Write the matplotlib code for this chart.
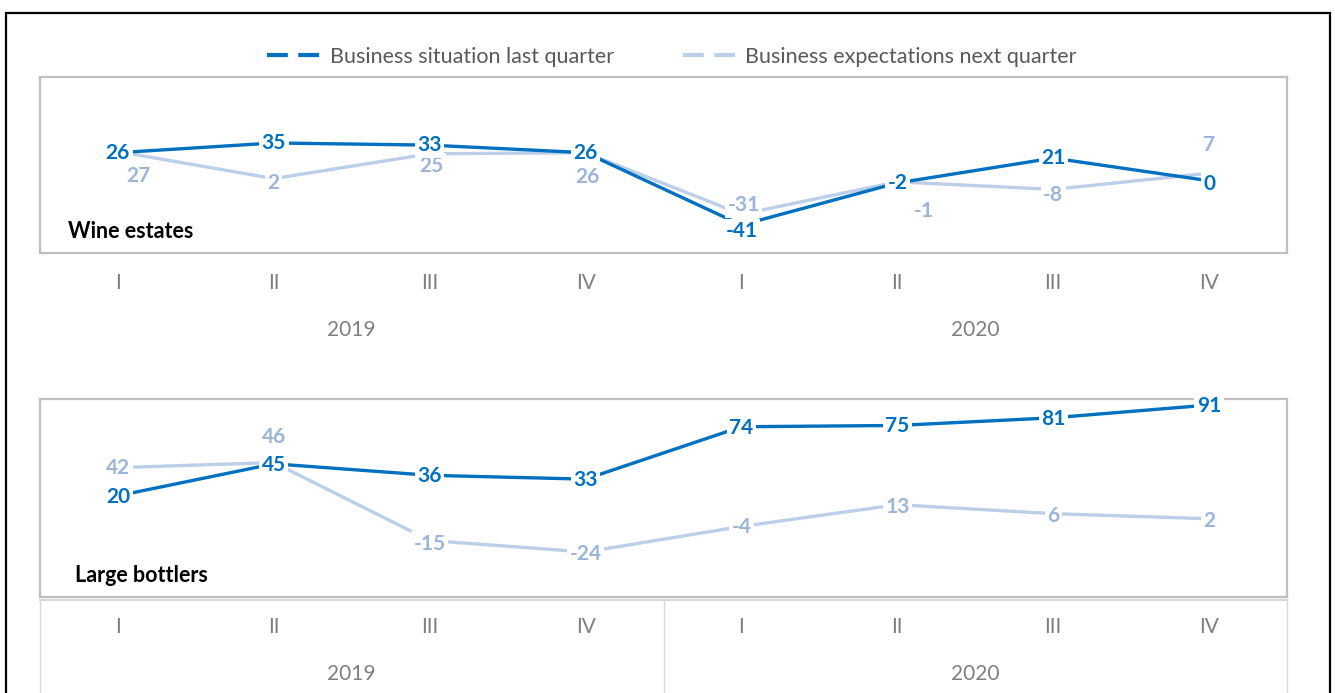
import matplotlib
matplotlib.use("Agg")
import matplotlib.pyplot as plt
from matplotlib.lines import Line2D
from matplotlib.patches import Rectangle
import matplotlib.transforms as mtransforms

plt.rcParams['font.family'] = ['Lato', 'DejaVu Sans']

quarters = ["I", "II", "III", "IV", "I", "II", "III", "IV"]
years = ["2019", "2020"]
series_names = ["Business situation last quarter", "Business expectations next quarter"]

wine_situation = [26, 35, 33, 26, -41, -2, 21, 0]
wine_expect = [27, 2, 25, 26, -31, -1, -8, 7]
bottlers_situation = [20, 45, 36, 33, 74, 75, 81, 91]
bottlers_expect = [42, 46, -15, -24, -4, 13, 6, 2]

DARK = "#0070C0"
LIGHT_LINE = "#BCCFE8"
LIGHT_TXT = "#9BB4DA"
GRAY_TXT = "#7F7F7F"
BOX = "#BFBFBF"

W, H = 1335, 693
fig = plt.figure(figsize=(W / 100, H / 100), dpi=100)

def axes_px(x0, y0, x1, y1):
    return fig.add_axes([x0 / W, 1 - y1 / H, (x1 - x0) / W, (y1 - y0) / H])

ax1 = axes_px(40, 77, 1287, 253)
ax2 = axes_px(40, 399, 1287, 597)

x = list(range(len(quarters)))

# label offsets in pixels (dx, dy) with dy positive downwards
wine_sit_off = [(0, 0), (0, 0), (0, 0), (0, 0), (0, 6), (0, 0), (0, 0), (0, 3)]
wine_exp_off = [(20, 24), (0, 4), (2, 12), (2, 24), (2, -9), (26, 29), (0, 6), (0, -28)]
bot_sit_off = [(0, 1)] * 8
bot_exp_off = [(0, 0), (0, -26), (0, 3), (0, 2), (0, 1), (0, 2), (0, 2), (0, 2)]

def draw_panel(ax, sit, exp, sit_off, exp_off, ylim, title, title_xy):
    ax.plot(x, exp, color=LIGHT_LINE, lw=2.4, solid_capstyle='butt', zorder=2)
    ax.plot(x, sit, color=DARK, lw=2.4, solid_capstyle='butt', zorder=3)
    ax.set_xlim(-0.5, 7.5)
    ax.set_ylim(*ylim)
    ax.set_xticks([])
    ax.set_yticks([])
    for s in ax.spines.values():
        s.set_color(BOX)
        s.set_linewidth(1.6)
    bb = dict(boxstyle='square,pad=0.12', fc='white', ec='none')
    for xi, v, (dx, dy) in zip(x, exp, exp_off):
        ax.annotate(str(v), (xi, v), xytext=(dx, -dy), textcoords='offset pixels',
                    ha='center', va='center', fontsize=15, fontweight='bold',
                    color=LIGHT_TXT, bbox=bb, zorder=5, annotation_clip=False)
    for xi, v, (dx, dy) in zip(x, sit, sit_off):
        ax.annotate(str(v), (xi, v), xytext=(dx, -dy), textcoords='offset pixels',
                    ha='center', va='center', fontsize=15, fontweight='bold',
                    color=DARK, bbox=bb, zorder=6, annotation_clip=False)
    # category labels
    for xi, q in zip(x, quarters):
        ax.annotate(q, (xi, 0), xycoords=('data', 'axes fraction'), xytext=(0, -30),
                    textcoords='offset pixels', ha='center', va='center',
                    fontsize=15, color=GRAY_TXT, annotation_clip=False)
    for i, yr in enumerate(years):
        ax.annotate(yr, (1.5 + 4 * i, 0), xycoords=('data', 'axes fraction'), xytext=(0, -77),
                    textcoords='offset pixels', ha='center', va='center',
                    fontsize=15, color=GRAY_TXT, annotation_clip=False)
    ax.text(title_xy[0], title_xy[1], title, transform=ax.transAxes, fontsize=15.5,
            fontweight='bold', color='black', ha='left', va='center')

draw_panel(ax1, wine_situation, wine_expect, wine_sit_off, wine_exp_off,
           (-66.9, 96.1), "Wine estates", ((68 - 40) / 1247, (253 - 232) / 176))
draw_panel(ax2, bottlers_situation, bottlers_expect, bot_sit_off, bot_exp_off,
           (-59.2, 95.7), "Large bottlers", ((75 - 40) / 1247, (597 - 575) / 198))

# separator lines below bottom panel
tr = mtransforms.blended_transform_factory(ax2.transData, ax2.transAxes)
ax2.plot([-0.5, 7.5], [-0.016, -0.016], color="#D9D9D9", lw=1.6, transform=tr, clip_on=False)
for xv in [-0.5, 3.5, 7.5]:
    ax2.plot([xv, xv], [-0.016, -0.5], color="#D9D9D9", lw=1.0, transform=tr, clip_on=False)

# legend
handles = [Line2D([], [], color=DARK, lw=3, dashes=(5, 2.5)),
           Line2D([], [], color=LIGHT_LINE, lw=3, dashes=(5, 2.5))]
fig.legend(handles, series_names, loc='center', bbox_to_anchor=(672 / W, 1 - 57 / H),
           ncol=2, frameon=False, fontsize=15.5, labelcolor="#595959",
           handlelength=2.8, handletextpad=0.1, columnspacing=3.2)

# outer frame
fig.add_artist(Rectangle((6 / W, -0.05), (1330 - 6) / W, 1 - 13 / H + 0.05,
                         transform=fig.transFigure, fill=False, ec='black', lw=1.6))

fig.savefig("out.png", dpi=100)
